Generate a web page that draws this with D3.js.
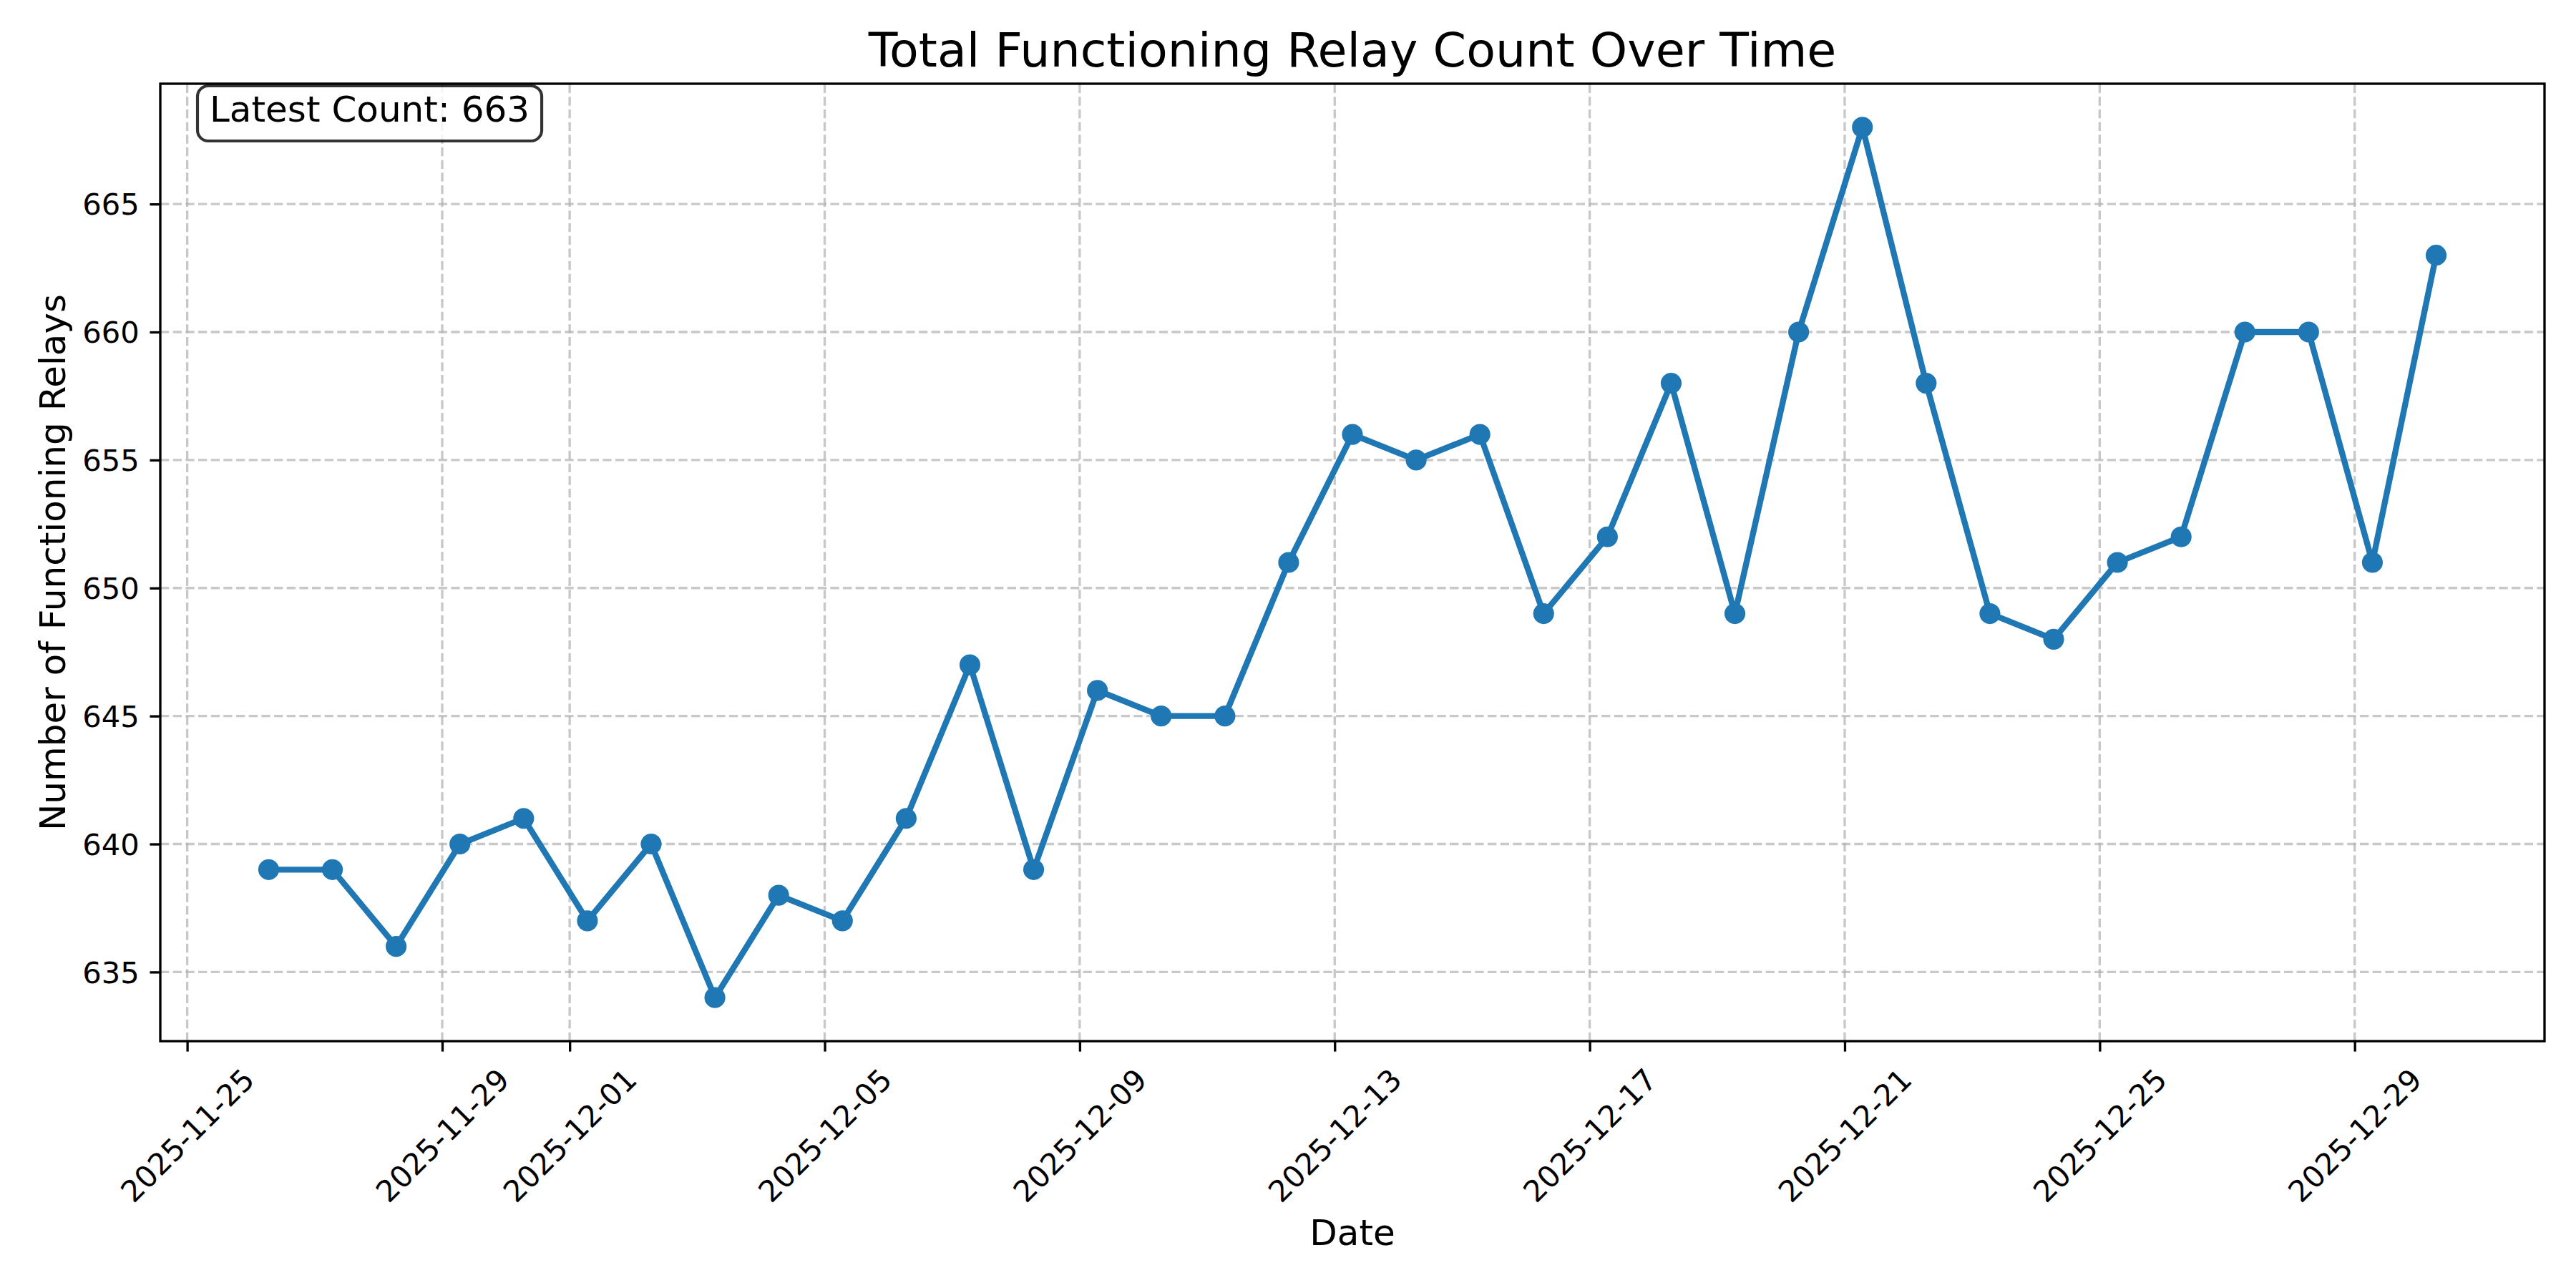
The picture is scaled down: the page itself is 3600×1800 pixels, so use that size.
<!DOCTYPE html>
<html>
<head>
<meta charset="utf-8">
<script src="https://cdn.jsdelivr.net/npm/d3@7"></script>
<style>
  html, body { margin: 0; padding: 0; background: #fff; }
  svg { display: block; font-family: "DejaVu Sans", sans-serif; }
</style>
</head>
<body>
<div id="chart"></div>
<script>
// daily snapshots (UTC)
const dates = [
  "2025-11-26T06:40", "2025-11-27T06:40", "2025-11-28T06:40", "2025-11-29T06:40",
  "2025-11-30T06:40", "2025-12-01T06:40", "2025-12-02T06:40", "2025-12-03T06:40",
  "2025-12-04T06:40", "2025-12-05T06:40", "2025-12-06T06:40", "2025-12-07T06:40",
  "2025-12-08T06:40", "2025-12-09T06:40", "2025-12-10T06:40", "2025-12-11T06:40",
  "2025-12-12T06:40", "2025-12-13T06:40", "2025-12-14T06:40", "2025-12-15T06:40",
  "2025-12-16T06:40", "2025-12-17T06:40", "2025-12-18T06:40", "2025-12-19T06:40",
  "2025-12-20T06:40", "2025-12-21T06:40", "2025-12-22T06:40", "2025-12-23T06:40",
  "2025-12-24T06:40", "2025-12-25T06:40", "2025-12-26T06:40", "2025-12-27T06:40",
  "2025-12-28T06:40", "2025-12-29T06:40", "2025-12-30T06:40"
];
const counts = [
  639, 639, 636, 640, 641, 637, 640, 634, 638, 637, 641, 647,
  639, 646, 645, 645, 651, 656, 655, 656, 649, 652, 658, 649,
  660, 668, 658, 649, 648, 651, 652, 660, 660, 651, 663
];
const xTickDates = [
  "2025-11-25", "2025-11-29", "2025-12-01", "2025-12-05", "2025-12-09",
  "2025-12-13", "2025-12-17", "2025-12-21", "2025-12-25", "2025-12-29"
];
const yTicks = [635, 640, 645, 650, 655, 660, 665];

const W = 3600, H = 1800;
const margin = { left: 224, right: 44, top: 117, bottom: 345 };
const PT = 300 / 72; // figure was rendered at 300 dpi

const parseT = d3.utcParse("%Y-%m-%dT%H:%M");
const parseD = d3.utcParse("%Y-%m-%d");
const fmt = d3.utcFormat("%Y-%m-%d");

const data = dates.map((d, i) => ({ t: parseT(d), v: counts[i] }));

// matplotlib-like 5% margins
const tExt = d3.extent(data, d => +d.t);
const tPad = (tExt[1] - tExt[0]) * 0.05;
const vExt = d3.extent(data, d => d.v);
const vPad = (vExt[1] - vExt[0]) * 0.05;

const x = d3.scaleUtc()
    .domain([new Date(tExt[0] - tPad), new Date(tExt[1] + tPad)])
    .range([margin.left, W - margin.right]);

const y = d3.scaleLinear()
    .domain([vExt[0] - vPad, vExt[1] + vPad])
    .range([H - margin.bottom, margin.top]);

const svg = d3.select("#chart").append("svg")
    .attr("width", W)
    .attr("height", H);

svg.append("rect").attr("width", W).attr("height", H).attr("fill", "#fff");

const x0 = margin.left, x1 = W - margin.right;
const y0 = margin.top, y1 = H - margin.bottom;

// grid
const grid = svg.append("g")
    .attr("stroke", "#b0b0b0")
    .attr("stroke-opacity", 0.7)
    .attr("stroke-width", 0.8 * PT)
    .attr("stroke-dasharray", `${2.96 * PT},${1.28 * PT}`);

grid.selectAll(".vgrid")
    .data(xTickDates.map(parseD))
    .enter().append("line")
    .attr("x1", d => x(d)).attr("x2", d => x(d))
    .attr("y1", y1).attr("y2", y0);

grid.selectAll(".hgrid")
    .data(yTicks)
    .enter().append("line")
    .attr("y1", d => y(d)).attr("y2", d => y(d))
    .attr("x1", x0).attr("x2", x1);

// line + markers
const line = d3.line()
    .x(d => x(d.t))
    .y(d => y(d.v));

svg.append("path")
    .datum(data)
    .attr("d", line)
    .attr("fill", "none")
    .attr("stroke", "#1f77b4")
    .attr("stroke-width", 2 * PT)
    .attr("stroke-linejoin", "round")
    .attr("stroke-linecap", "square");

svg.append("g").selectAll("circle")
    .data(data)
    .enter().append("circle")
    .attr("cx", d => x(d.t))
    .attr("cy", d => y(d.v))
    .attr("r", 3 * PT + 0.5 * PT)
    .attr("fill", "#1f77b4");

// axes
const xAxis = svg.append("g")
    .attr("transform", `translate(0,${y1})`)
    .call(d3.axisBottom(x)
        .tickValues(xTickDates.map(parseD))
        .tickFormat(fmt)
        .tickSize(3.5 * PT)
        .tickSizeOuter(0));

const yAxis = svg.append("g")
    .attr("transform", `translate(${x0},0)`)
    .call(d3.axisLeft(y)
        .tickValues(yTicks)
        .tickSize(3.5 * PT)
        .tickPadding(3.5 * PT)
        .tickSizeOuter(0));

[xAxis, yAxis].forEach(a => {
    a.select(".domain").remove();
    a.selectAll(".tick line").attr("stroke", "#000").attr("stroke-width", 0.8 * PT);
    a.selectAll(".tick text")
        .attr("fill", "#000")
        .style("font-family", "'DejaVu Sans', sans-serif")
        .style("font-size", (10 * PT) + "px");
});

yAxis.selectAll(".tick text").attr("dy", "0.35em");

// rotated date labels, centred on tick like matplotlib ha='center'
const labelTop = 3.5 * PT + 3.5 * PT;
const fs = 10 * PT;
xAxis.selectAll(".tick text").each(function () {
    const t = d3.select(this);
    const w = this.getComputedTextLength();
    const h = fs * 1.164;
    const cy = labelTop + (w + h) * Math.SQRT1_2 / 2;
    t.attr("y", null).attr("dy", null)
        .attr("text-anchor", "middle")
        .attr("dominant-baseline", "central")
        .attr("transform", `translate(0,${cy}) rotate(-45)`);
});

// frame
svg.append("rect")
    .attr("x", x0).attr("y", y0)
    .attr("width", x1 - x0).attr("height", y1 - y0)
    .attr("fill", "none")
    .attr("stroke", "#000")
    .attr("stroke-width", 0.8 * PT);

// title and axis labels
svg.append("text")
    .attr("x", (x0 + x1) / 2).attr("y", 93)
    .attr("text-anchor", "middle")
    .style("font-size", (16 * PT) + "px")
    .text("Total Functioning Relay Count Over Time");

svg.append("text")
    .attr("x", (x0 + x1) / 2).attr("y", 1740)
    .attr("text-anchor", "middle")
    .style("font-size", (12 * PT) + "px")
    .text("Date");

svg.append("text")
    .attr("transform", `translate(91,${(y0 + y1) / 2}) rotate(-90)`)
    .attr("text-anchor", "middle")
    .style("font-size", (12 * PT) + "px")
    .text("Number of Functioning Relays");

// latest count annotation box
const note = svg.append("g");
const noteText = note.append("text")
    .attr("x", 293).attr("y", 170)
    .style("font-size", (12 * PT) + "px")
    .text("Latest Count: " + counts[counts.length - 1]);

const tw = noteText.node().getComputedTextLength();
note.insert("rect", "text")
    .attr("x", 276).attr("y", 120)
    .attr("width", tw + 2 * 17).attr("height", 77)
    .attr("rx", 15).attr("ry", 15)
    .attr("fill", "#fff")
    .attr("fill-opacity", 0.8)
    .attr("stroke", "#000")
    .attr("stroke-opacity", 0.8)
    .attr("stroke-width", 1 * PT);
</script>
</body>
</html>
